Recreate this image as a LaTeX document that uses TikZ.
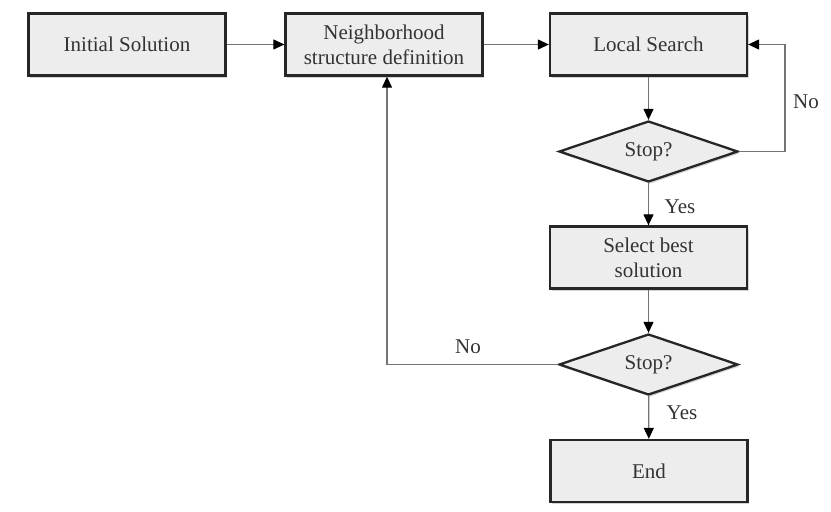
\documentclass[tikz,border=0pt]{standalone}
\usepackage{fontspec}
\setmainfont{Liberation Serif}
\usetikzlibrary{shapes.geometric,arrows.meta,shadows}
\begin{document}
\begin{tikzpicture}[x=1pt,y=-1pt,
  every node/.style={font=\fontsize{21}{25}\selectfont, text=black!80},
  procbox/.style={draw=black!85, line width=2.3pt, fill=black!7, minimum width=197pt, minimum height=62pt, inner sep=0pt, align=center,
    drop shadow={opacity=0.35, shadow xshift=1.5pt, shadow yshift=-2pt}},
  decision/.style={diamond, draw=black!85, line width=2.3pt, fill=black!7, minimum width=179pt, minimum height=61pt, inner sep=0pt, shape aspect=2.9,
    drop shadow={opacity=0.35, shadow xshift=1.5pt, shadow yshift=-2pt}},
  conn/.style={draw=black!55, line width=1.2pt, -{Triangle[length=11pt,width=10pt,fill=black,color=black]}},
  lbl/.style={inner sep=0pt}
]
\useasboundingbox (0,0) rectangle (831,512);
\node[procbox] (init) at (127,44.5) {Initial Solution};
\node[procbox] (nbh) at (384,44.5) {Neighborhood\\structure definition};
\node[procbox] (ls) at (648.5,44.5) {Local Search};
\node[decision] (d1) at (648.5,151.5) {Stop?};
\node[procbox] (sel) at (648.5,257.5) {Select best\\solution};
\node[decision] (d2) at (648.5,364.5) {Stop?};
\node[procbox] (fin) at (649,471) {End};
\coordinate (c1) at (785,151.5);
\coordinate (c2) at (387,364.5);

\draw[conn] (init) -- (nbh);
\draw[conn] (nbh) -- (ls);
\draw[conn] (ls) -- (d1);
\draw[conn] (d1.east) -- (c1) |- (ls.east);
\draw[conn] (d1) -- (sel);
\draw[conn] (sel) -- (d2);
\draw[conn] (d2.west) -- (c2) -- (c2 |- nbh.south);
\draw[conn] (d2) -- (fin);

\node[lbl] (no1) at (806,102) {No};
\node[lbl] (yes1) at (680,207) {Yes};
\node[lbl] (no2) at (468,347) {No};
\node[lbl] (yes2) at (682,413) {Yes};
\end{tikzpicture}
\end{document}
